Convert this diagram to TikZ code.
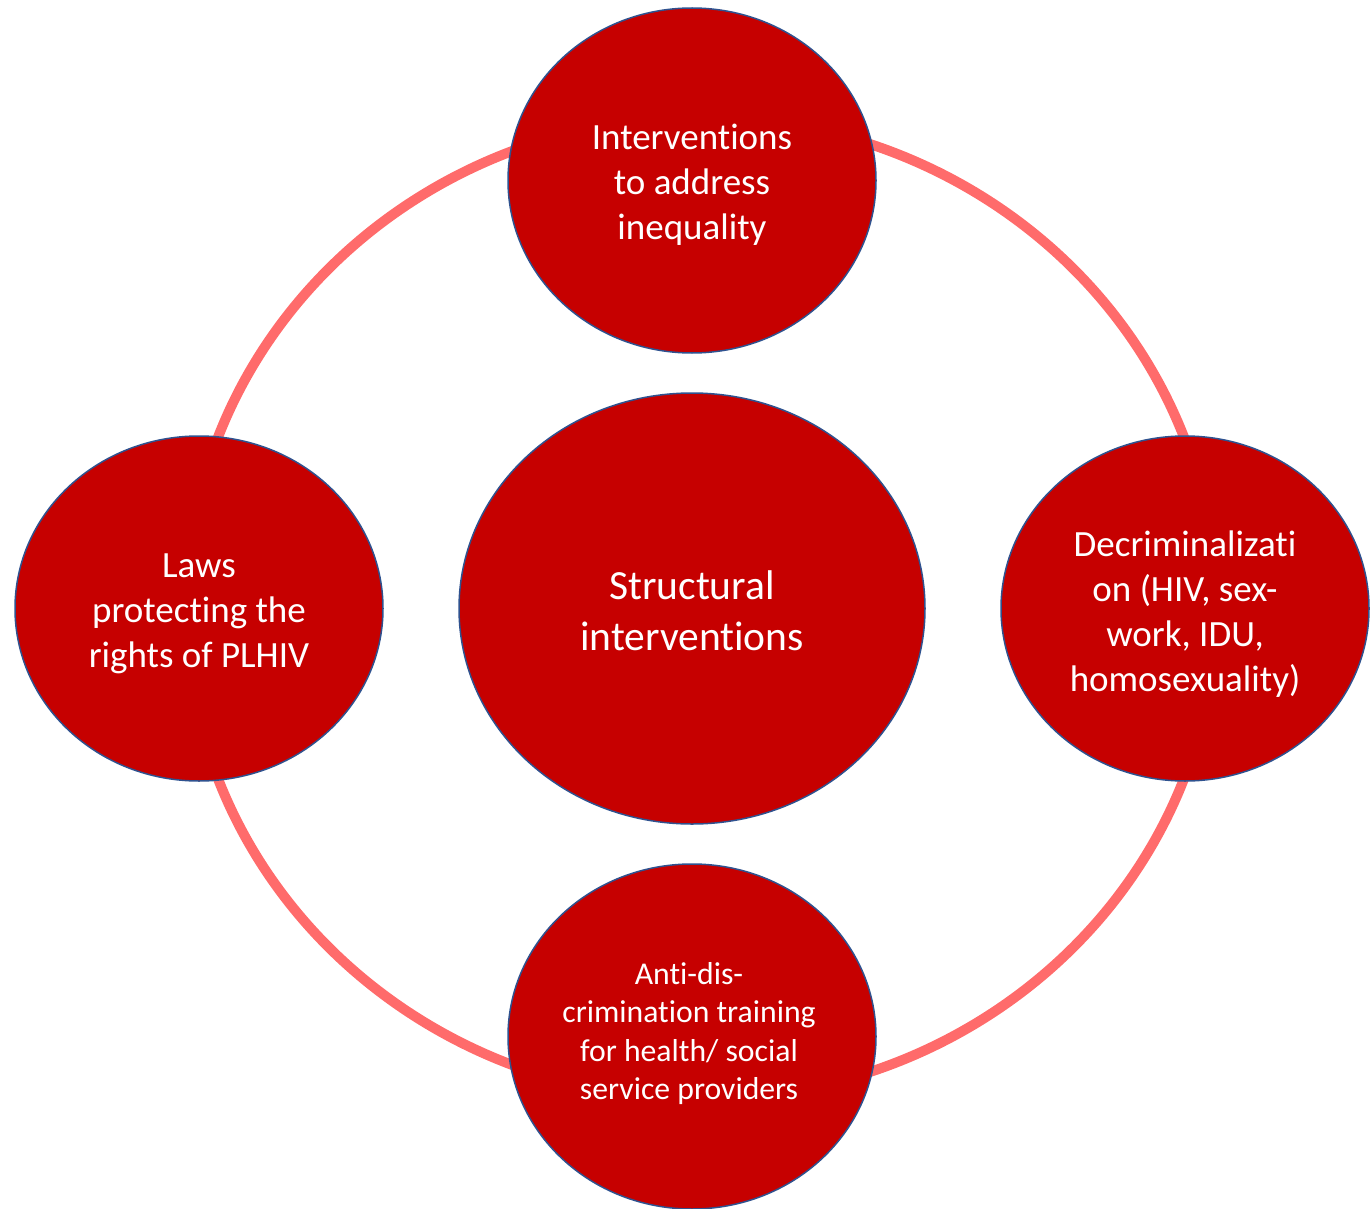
\documentclass[tikz,border=0pt]{standalone}
\usepackage{fontspec}
\setmainfont{Carlito}[Ligatures=NoCommon]
\usetikzlibrary{shapes.geometric}
\definecolor{darkred}{HTML}{C60000}
\definecolor{edgeblue}{HTML}{2F528F}
\definecolor{ringred}{HTML}{FF6B6B}
\begin{document}
\begin{tikzpicture}[x=1pt,y=-1pt,
  bubble/.style={ellipse, draw=edgeblue, line width=1.5pt, fill=darkred,
    inner sep=0pt, minimum width=368pt, minimum height=345pt},
  hub/.style={bubble, minimum width=466pt, minimum height=431pt},
  caption/.style={text=white, align=center, inner sep=0pt,
    font=\fontsize{37}{45}\selectfont},
  ringstyle/.style={ellipse, draw=ringred, line width=10pt, inner sep=0pt,
    minimum width=1030pt, minimum height=982pt}]
\useasboundingbox (0,0) rectangle (1370,1209);
\node[ringstyle] (ring) at (701,608) {};
\node[bubble] (top) at (692,180.5) {};
\node[bubble] (left) at (199,608.5) {};
\node[bubble] (right) at (1185,608.5) {};
\node[bubble] (bottom) at (692,1036.5) {};
\node[hub] (hub) at (692,608.5) {};
\node[caption] (toptext) at (692,185) {Interventions\\to address\\inequality};
\node[caption] (lefttext) at (199,613.5) {Laws\\protecting the\\rights of PLHIV};
\node[caption] (righttext) at (1185,614) {Decriminalizati\\on (HIV, sex-\\work, IDU,\\homosexuality)};
\node[caption, font=\fontsize{31.7}{38.5}\selectfont] (bottomtext) at (689,1033.5) {Anti-dis-\\crimination training\\for health/ social\\service providers};
\node[caption, font=\fontsize{41.5}{50.5}\selectfont] (hubtext) at (692,610.5) {Structural\\interventions};
\end{tikzpicture}
\end{document}
